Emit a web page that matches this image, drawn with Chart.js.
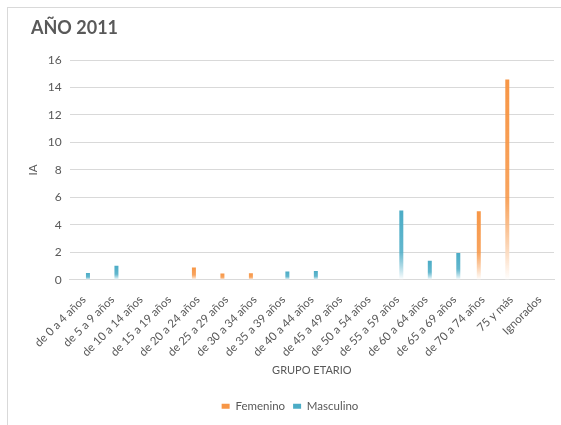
<!DOCTYPE html>
<html>
<head>
<meta charset="utf-8">
<script src="https://cdn.jsdelivr.net/npm/chart.js@4"></script>
<style>
  body { margin: 0; background: #fff; }
  #box {
    position: absolute; left: 7px; top: 7px;
    width: 554px; height: 418px;
    border-left: 1px solid #d9d9d9; border-top: 1px solid #d9d9d9;
  }
  #chart { display: block; }
</style>
</head>
<body>
<div id="box"><canvas id="chart" width="553" height="417"></canvas></div>
<script>
const categories = [
  'de 0 a 4 años', 'de 5 a 9 años', 'de 10 a 14 años', 'de 15 a 19 años',
  'de 20 a 24 años', 'de 25 a 29 años', 'de 30 a 34 años', 'de 35 a 39 años',
  'de 40 a 44 años', 'de 45 a 49 años', 'de 50 a 54 años', 'de 55 a 59 años',
  'de 60 a 64 años', 'de 65 a 69 años', 'de 70 a 74 años', '75 y más', 'Ignorados'
];
const femenino  = [0, 0, 0, 0, 0.9, 0.45, 0.48, 0, 0, 0, 0, 0, 0, 0, 4.98, 14.58, 0];
const masculino = [0.5, 1.02, 0, 0, 0, 0, 0, 0.6, 0.64, 0, 0, 5.04, 1.39, 1.95, 0, 0, 0];
const yTicks = [0, 2, 4, 6, 8, 10, 12, 14, 16];

const ORANGE = '#f79646';
const BLUE = '#4bacc6';
const GREY = '#595959';
const FONT = 'Lato, "Open Sans", sans-serif';

// vertical fade per bar, like the original gradient fill
function fade(color) {
  return function (ctx) {
    const chart = ctx.chart;
    if (!chart.chartArea || ctx.type !== 'data') return color;
    const y = chart.scales.y;
    const top = y.getPixelForValue(ctx.raw);
    const base = y.getPixelForValue(0);
    if (base - top < 1) return color;
    const g = chart.ctx.createLinearGradient(0, top, 0, base);
    g.addColorStop(0, color);
    g.addColorStop(0.6, color + 'dd');
    g.addColorStop(1, '#ffffff');
    return g;
  };
}

// chart title, placed where the original has it
const titlePlugin = {
  id: 'bigTitle',
  afterDraw(chart) {
    const c = chart.ctx;
    c.save();
    c.fillStyle = GREY;
    c.font = 'bold 18px ' + FONT;
    c.textBaseline = 'alphabetic';
    c.fillText('AÑO 2011', 23, 26);
    c.restore();
  }
};

new Chart(document.getElementById('chart'), {
  type: 'bar',
  data: {
    labels: categories,
    datasets: [
      { label: 'Femenino', data: femenino, backgroundColor: fade(ORANGE) },
      { label: 'Masculino', data: masculino, backgroundColor: fade(BLUE) }
    ]
  },
  plugins: [titlePlugin],
  options: {
    responsive: false,
    animation: false,
    datasets: { bar: { categoryPercentage: 0.56, barPercentage: 0.5 } },
    layout: { padding: { left: 18, right: 7, top: 52, bottom: 3 } },
    plugins: {
      legend: {
        position: 'bottom',
        labels: {
          color: GREY, font: { family: FONT, size: 11.5 },
          boxWidth: 8, boxHeight: 5, padding: 8,
          generateLabels: () => [
            { text: 'Femenino', fillStyle: ORANGE, strokeStyle: ORANGE, lineWidth: 0, fontColor: GREY, datasetIndex: 0 },
            { text: 'Masculino', fillStyle: BLUE, strokeStyle: BLUE, lineWidth: 0, fontColor: GREY, datasetIndex: 1 }
          ]
        }
      },
      tooltip: { enabled: false }
    },
    scales: {
      x: {
        grid: { display: false },
        border: { color: '#d9d9d9' },
        ticks: {
          color: GREY, font: { family: FONT, size: 11.5 },
          minRotation: 45, maxRotation: 45, autoSkip: false, padding: 5
        },
        title: {
          display: true, text: 'GRUPO ETARIO', color: GREY,
          font: { family: FONT, size: 11 }, padding: { top: 0, bottom: 15 }
        }
      },
      y: {
        min: 0, max: 16,
        afterBuildTicks: axis => { axis.ticks = yTicks.map(v => ({ value: v })); },
        grid: { color: '#d9d9d9', drawTicks: false },
        border: { display: false },
        ticks: { color: GREY, font: { family: FONT, size: 12 }, padding: 8 },
        title: {
          display: true, text: 'IA', color: GREY,
          font: { family: FONT, size: 11.5 }, padding: { top: 0, bottom: 0 }
        }
      }
    }
  }
});
</script>
</body>
</html>
